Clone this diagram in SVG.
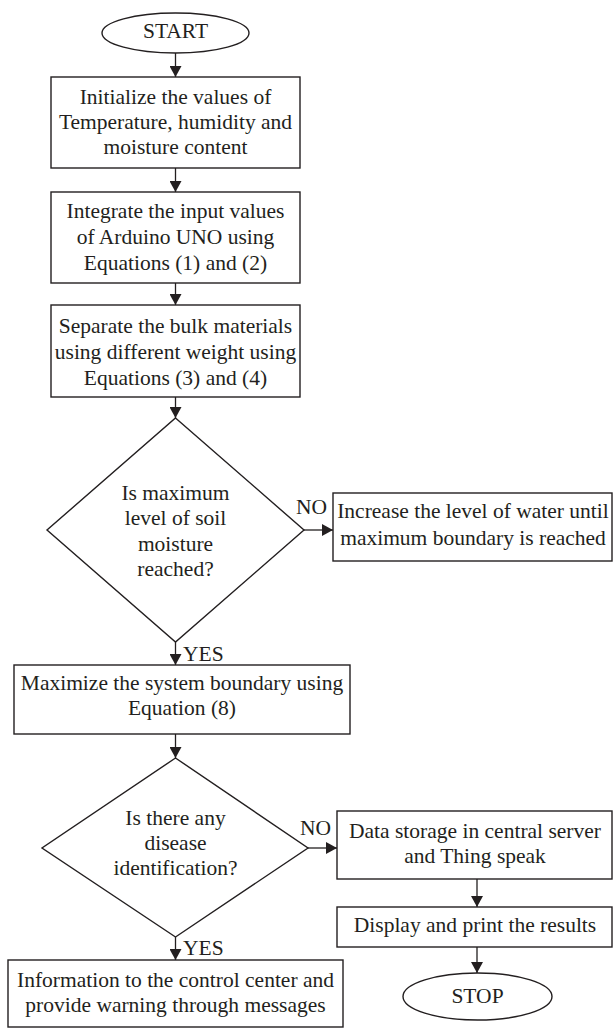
<svg xmlns="http://www.w3.org/2000/svg" width="613" height="1028" viewBox="0 0 613 1028">
<defs>
<marker id="ah" markerUnits="userSpaceOnUse" markerWidth="11" markerHeight="12" refX="11" refY="6" orient="auto">
<path d="M0,0 L11,6 L0,12 z" fill="#231f20"/>
</marker>
<style>
.s{fill:#fff;stroke:#231f20;stroke-width:1.4}
.t{font-family:"Liberation Serif","Times New Roman",serif;font-size:21.5px;fill:#231f20;text-anchor:middle}
.l{font-family:"Liberation Serif","Times New Roman",serif;font-size:21.5px;fill:#231f20}
.c{fill:none;stroke:#231f20;stroke-width:1.3;marker-end:url(#ah)}
</style>
</defs>
<rect width="613" height="1028" fill="#fff"/>
<g id="connectors">
<line class="c" x1="175.5" y1="53" x2="175.5" y2="77"/>
<line class="c" x1="175.5" y1="168" x2="175.5" y2="192"/>
<line class="c" x1="175.5" y1="283" x2="175.5" y2="305"/>
<line class="c" x1="175.5" y1="397" x2="175.5" y2="418"/>
<line class="c" x1="175.5" y1="642" x2="175.5" y2="665"/>
<line class="c" x1="304" y1="530" x2="333" y2="530"/>
<line class="c" x1="175.5" y1="734" x2="175.5" y2="758"/>
<line class="c" x1="175.5" y1="937" x2="175.5" y2="960"/>
<line class="c" x1="308" y1="848" x2="337" y2="848"/>
<line class="c" x1="477" y1="879" x2="477" y2="907"/>
<line class="c" x1="477" y1="947" x2="477" y2="973"/>
<text class="l" x="296" y="514">NO</text>
<text class="l" x="300" y="835">NO</text>
<text class="l" x="183" y="661">YES</text>
<text class="l" x="183" y="955">YES</text>
</g>
<g id="start">
<ellipse class="s" cx="175.5" cy="33" rx="73.5" ry="20"/>
<text class="t" x="175.5" y="37.5">START</text>
</g>
<g id="init">
<rect class="s" x="51" y="77" width="249" height="91"/>
<text class="t" x="175.5" y="104">Initialize the values of</text>
<text class="t" x="175.5" y="129">Temperature, humidity and</text>
<text class="t" x="175.5" y="154">moisture content</text>
</g>
<g id="integrate">
<rect class="s" x="51" y="192" width="249" height="91"/>
<text class="t" x="175.5" y="218">Integrate the input values</text>
<text class="t" x="175.5" y="244">of Arduino UNO using</text>
<text class="t" x="175.5" y="270">Equations (1) and (2)</text>
</g>
<g id="separate">
<rect class="s" x="51" y="305" width="249" height="92"/>
<text class="t" x="175.5" y="333">Separate the bulk materials</text>
<text class="t" x="175.5" y="359">using different weight using</text>
<text class="t" x="175.5" y="385">Equations (3) and (4)</text>
</g>
<g id="decision1">
<polygon class="s" points="175.5,418 304,530 175.5,642 47,530"/>
<text class="t" x="175.5" y="500">Is maximum</text>
<text class="t" x="175.5" y="525">level of soil</text>
<text class="t" x="175.5" y="551">moisture</text>
<text class="t" x="175.5" y="576">reached?</text>
</g>
<g id="increase">
<rect class="s" x="333" y="493" width="279" height="68"/>
<text class="t" x="473" y="518">Increase the level of water until</text>
<text class="t" x="473" y="545">maximum boundary is reached</text>
</g>
<g id="maximize">
<rect class="s" x="14" y="665" width="336" height="69"/>
<text class="t" x="182" y="690">Maximize the system boundary using</text>
<text class="t" x="182" y="715">Equation (8)</text>
</g>
<g id="decision2">
<polygon class="s" points="175.5,758 308,848 175.5,937 42,848"/>
<text class="t" x="175.5" y="825">Is there any</text>
<text class="t" x="175.5" y="850">disease</text>
<text class="t" x="175.5" y="875">identification?</text>
</g>
<g id="storage">
<rect class="s" x="337" y="811" width="275" height="68"/>
<text class="t" x="475" y="838">Data storage in central server</text>
<text class="t" x="475" y="863">and Thing speak</text>
</g>
<g id="display">
<rect class="s" x="337" y="907" width="275" height="40"/>
<text class="t" x="475" y="932">Display and print the results</text>
</g>
<g id="stop">
<ellipse class="s" cx="477.5" cy="996.5" rx="74.5" ry="23.5"/>
<text class="t" x="477.5" y="1003">STOP</text>
</g>
<g id="info">
<rect class="s" x="8" y="960" width="335" height="67"/>
<text class="t" x="175.5" y="987">Information to the control center and</text>
<text class="t" x="175.5" y="1012">provide warning through messages</text>
</g>
</svg>
